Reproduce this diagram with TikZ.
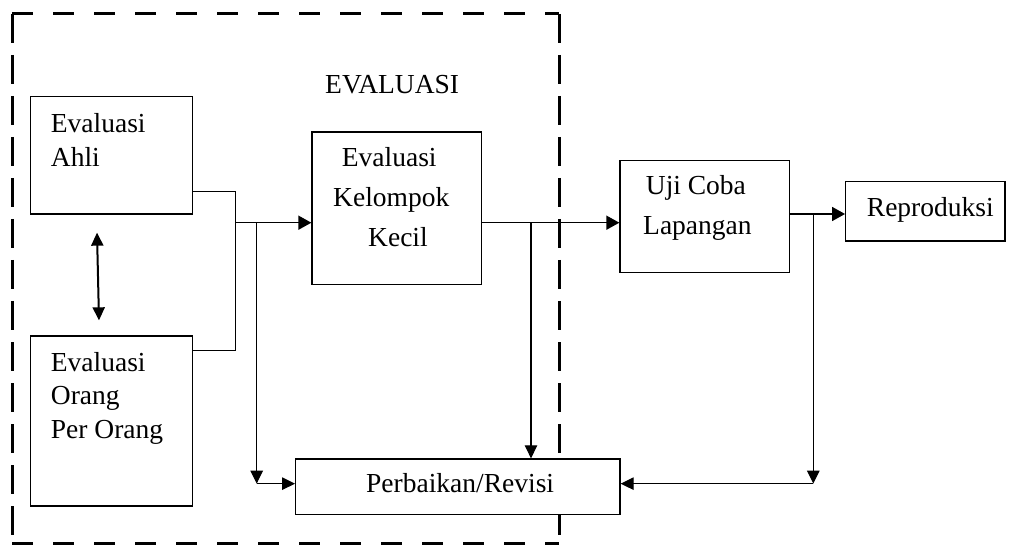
\documentclass[tikz,border=0pt]{standalone}
\usepackage{fontspec}
\setmainfont{Liberation Serif}
\usetikzlibrary{arrows.meta}
\tikzset{
  blok/.style={draw, fill=white, line width=1.3pt, inner sep=0pt},
  teks/.style={anchor=base west, inner sep=0pt, align=left},
  garis/.style={line width=1.1pt},
  panah/.style={line width=1.6pt, -{Triangle[length=13pt,width=14pt]}},
  cabang/.style={line width=1.1pt, -{Triangle[length=13pt,width=12.5pt]}},
  putusH/.style={line width=3pt, dash pattern=on 21pt off 20pt},
  putusV/.style={line width=3pt, dash pattern=on 29pt off 12pt},
}
\begin{document}
\begin{tikzpicture}[x=1pt,y=-1pt,font=\fontsize{27.5}{34}\selectfont]
\useasboundingbox (0,0) rectangle (1009,545);
% batas evaluasi
\draw[putusH] (12.3,14) -- (559.3,14);
\draw[putusH] (12.3,543) -- (559.3,543);
\draw[putusV] (12.3,14) -- (12.3,543);
\draw[putusV] (559.3,14) -- (559.3,543);
\node[teks] (t-eval) at (325,94) {EVALUASI};
% kotak
\node[blok, minimum width=161.6pt, minimum height=117.3pt] (ahli) at (111.5,155.35) {};
\node[blok, minimum width=161.6pt, minimum height=170pt] (orang) at (111.5,421) {};
\node[blok, minimum width=169.7pt, minimum height=152.3pt] (kelompok) at (396.85,208.15) {};
\node[blok, minimum width=169.3pt, minimum height=111.6pt] (uji) at (704.65,216.5) {};
\node[blok, minimum width=159.3pt, minimum height=59.3pt] (repro) at (925.35,211.35) {};
\node[blok, minimum width=324.3pt, minimum height=55.3pt] (revisi) at (457.85,486.65) {};
% teks (titik = garis dasar baris terakhir)
\node[teks] (t-ahli) at (50.7,167) {Evaluasi\\Ahli};
\node[teks, font=\fontsize{27.5}{33.2}\selectfont] (t-orang) at (50.7,438) {Evaluasi\\Orang\\Per Orang};
\node[teks, font=\fontsize{27.5}{40}\selectfont] (t-kelompok) at (333,246.7) {\hspace*{8.7pt}Evaluasi\\Kelompok\\\hspace*{35pt}Kecil};
\node[teks, font=\fontsize{27.5}{40}\selectfont] (t-uji) at (643,235) {\hspace*{2.7pt}Uji Coba\\Lapangan};
\node[teks] (t-repro) at (866.7,216.7) {Reproduksi};
\node[teks] (t-revisi) at (366,492.7) {Perbaikan/Revisi};
% titik simpang
\coordinate (gabung) at (235.7,222.7);
\coordinate (pisahA) at (256.7,222.7);
\coordinate (pisahB) at (531,222.7);
\coordinate (pisahC) at (813.3,214);
\coordinate (masukKiri) at ([yshift=3pt]revisi.west);
\coordinate (masukKanan) at ([yshift=3pt]revisi.east);
% garis
\draw[line width=2pt, {Triangle[length=13pt,width=12pt]}-{Triangle[length=13pt,width=12pt]}]
  ([xshift=-14.5pt,yshift=-18pt]ahli.south) -- ([xshift=-12.5pt,yshift=15pt]orang.north);
\draw[garis] ([yshift=-36.3pt]ahli.east) -| (gabung) |- ([yshift=70.3pt]orang.east);
\draw[panah] (gabung) -- (gabung -| kelompok.west);
\draw[cabang] (pisahA) -- (pisahA |- masukKiri);
\draw[cabang] (pisahA |- masukKiri) -- (masukKiri);
\draw[panah] (kelompok.east |- pisahB) -- (uji.west |- pisahB);
\draw[cabang] (pisahB) -- (pisahB |- revisi.north);
\draw[panah] (uji.east |- pisahC) -- (repro.west |- pisahC);
\draw[cabang] (pisahC) -- (pisahC |- masukKanan);
\draw[cabang] (pisahC |- masukKanan) -- (masukKanan);
\end{tikzpicture}
\end{document}
